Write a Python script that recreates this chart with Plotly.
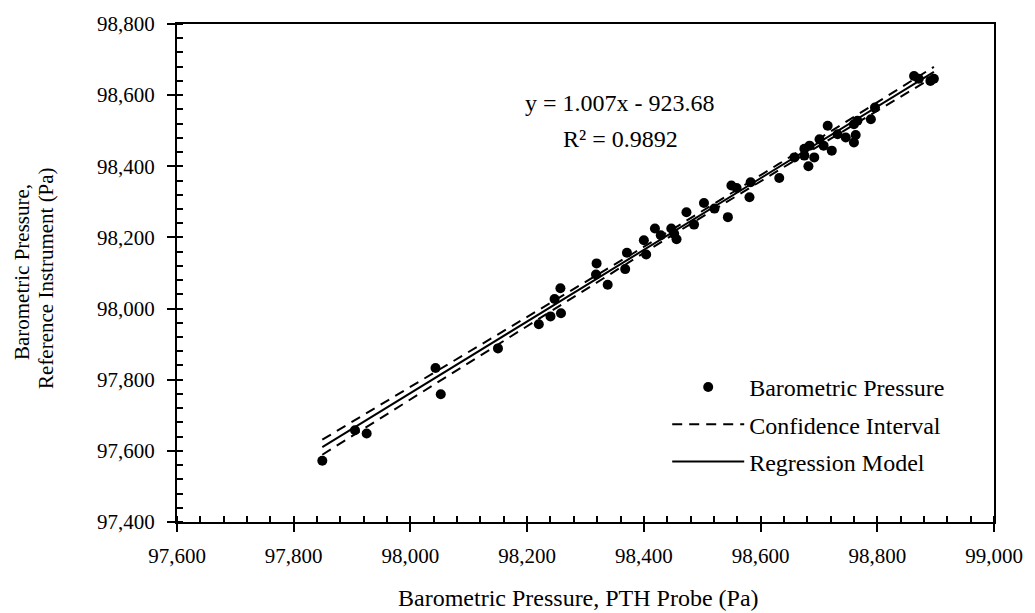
import numpy as np
import plotly.graph_objects as go

# PTH probe readings (Pa) and reference instrument readings (Pa)
pth_probe = [97849, 97905, 97925, 98043, 98052, 98150, 98220, 98240, 98258, 98247,
             98257, 98319, 98318, 98338, 98368, 98371, 98404, 98400, 98419, 98429,
             98447, 98456, 98452, 98473, 98486, 98503, 98521, 98544, 98550, 98559,
             98581, 98583, 98632, 98658, 98675, 98682, 98675, 98684, 98692, 98701,
             98708, 98715, 98722, 98732, 98746, 98760, 98763, 98760, 98766, 98789,
             98796, 98863, 98871, 98891, 98897]
reference = [97572, 97658, 97649, 97833, 97759, 97888, 97956, 97978, 97987, 98027,
             98057, 98127, 98096, 98067, 98111, 98157, 98152, 98192, 98225, 98206,
             98225, 98195, 98210, 98271, 98236, 98297, 98281, 98257, 98346, 98339,
             98313, 98355, 98367, 98425, 98430, 98400, 98449, 98458, 98425, 98476,
             98458, 98514, 98444, 98490, 98481, 98467, 98488, 98518, 98528, 98532,
             98565, 98654, 98646, 98640, 98646]

slope = 1.007
intercept = -923.68
r_squared = 0.9892

x_ticks = [97600, 97800, 98000, 98200, 98400, 98600, 98800, 99000]
y_ticks = [97400, 97600, 97800, 98000, 98200, 98400, 98600, 98800]

xa = np.array(pth_probe, dtype=float)
ya = np.array(reference, dtype=float)
xl = np.linspace(xa.min(), xa.max(), 60)
yl = slope * xl + intercept
resid = ya - (slope * xa + intercept)
n = len(xa)
s = np.sqrt(np.sum(resid ** 2) / (n - 2))
sxx = np.sum((xa - xa.mean()) ** 2)
half = 2.0 * s * np.sqrt(1.0 / n + (xl - xa.mean()) ** 2 / sxx)

FONT = "Liberation Serif"
L, R, T, B = 177, 38, 21, 91
PW, PH = 1035 - L - R, 613 - T - B


def px(xp):
    return (xp - L) / PW


def py(yp):
    return 1 - (yp - T) / PH


fig = go.Figure()
fig.add_trace(go.Scatter(x=pth_probe, y=reference, mode="markers",
                         name="Barometric Pressure", legendgroup="a",
                         marker=dict(color="black", size=10)))
fig.add_trace(go.Scatter(x=xl, y=yl + half, mode="lines", name="Confidence Interval",
                         legendgroup="b",
                         line=dict(color="black", width=2, dash="10px,7px")))
fig.add_trace(go.Scatter(x=xl, y=yl - half, mode="lines", name="Confidence Interval",
                         showlegend=False, legendgroup="b",
                         line=dict(color="black", width=2, dash="10px,7px")))
fig.add_trace(go.Scatter(x=xl, y=yl, mode="lines", name="Regression Model",
                         legendgroup="c",
                         line=dict(color="black", width=2)))

axis_common = dict(showgrid=False, zeroline=False, showline=True, linecolor="black",
                   linewidth=2, mirror=True, ticks="outside", ticklen=8, tickwidth=2,
                   tickcolor="black", tickformat=",d",
                   tickfont=dict(family=FONT, size=21, color="black"),
                   minor=dict(ticks="inside", ticklen=6, tickwidth=1.5, dtick=40,
                              tickcolor="black"))
fig.update_xaxes(range=[97600, 99000], tickvals=x_ticks, ticklabelstandoff=6, **axis_common)
fig.update_yaxes(range=[97400, 98800], tickvals=y_ticks, ticklabelstandoff=8, **axis_common)

fig.add_annotation(text="Barometric Pressure, PTH Probe (Pa)", xref="paper", yref="paper",
                   x=px(580), y=py(598), xanchor="center", yanchor="middle", showarrow=False,
                   font=dict(family=FONT, size=24, color="black"))
fig.add_annotation(text="Barometric Pressure,", xref="paper", yref="paper",
                   x=px(21), y=py(271), xanchor="center", yanchor="middle",
                   textangle=-90, showarrow=False,
                   font=dict(family=FONT, size=21, color="black"))
fig.add_annotation(text="Reference Instrument (Pa)", xref="paper", yref="paper",
                   x=px(46), y=py(276), xanchor="center", yanchor="middle",
                   textangle=-90, showarrow=False,
                   font=dict(family=FONT, size=21, color="black"))
fig.add_annotation(text="y = 1.007x - 923.68", xref="paper", yref="paper",
                   x=px(622), y=py(100), xanchor="center", yanchor="middle",
                   showarrow=False, font=dict(family=FONT, size=24, color="black"))
fig.add_annotation(text="R² = 0.9892", xref="paper", yref="paper",
                   x=px(622), y=py(137), xanchor="center", yanchor="middle",
                   showarrow=False, font=dict(family=FONT, size=24, color="black"))

fig.update_layout(width=1035, height=613, margin=dict(l=L, r=R, t=T, b=B),
                  paper_bgcolor="white", plot_bgcolor="white",
                  font=dict(family=FONT, color="black"),
                  legend=dict(x=px(669), y=py(364),
                              xanchor="left", yanchor="top", itemwidth=72,
                              bgcolor="rgba(0,0,0,0)",
                              font=dict(family=FONT, size=24, color="black"),
                              tracegroupgap=3))
fig.write_html("out.html")
